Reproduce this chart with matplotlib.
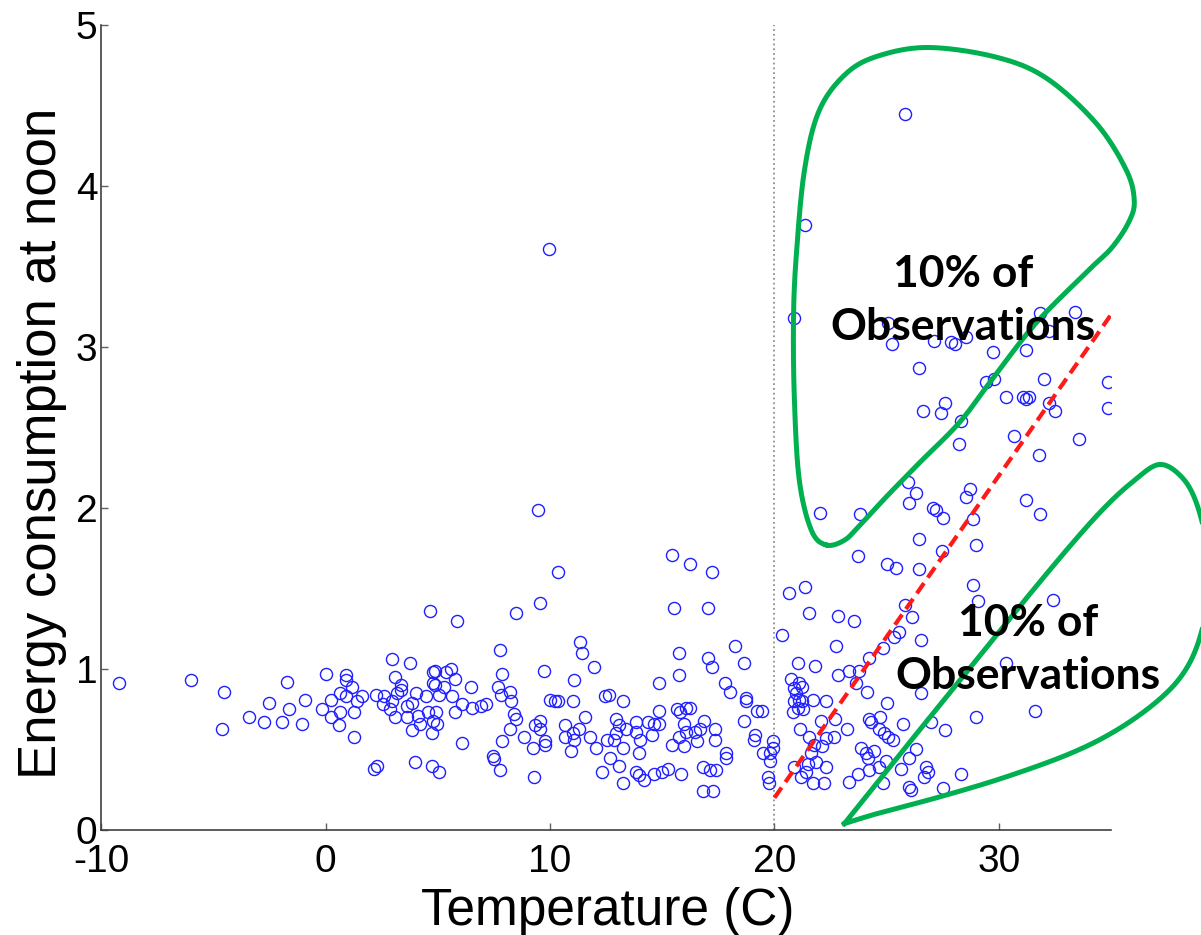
import numpy as np
import matplotlib
matplotlib.use("Agg")
import matplotlib.pyplot as plt

# temperature (C) / energy at noon, grouped by region
temp_cold = [-9.21, -6.01, -4.54, -4.63, -3.43, -2.54, -2.75, -1.74, -1.63, -1.96, -0.94, -1.04, -0.16, 0.0,
             0.25, 0.25, 0.59, 0.62, 0.65, 0.88, 0.88, 0.92, 1.17, 1.26, 1.26, 1.37, 1.63, 2.23, 2.15, 2.26,
             2.55, 2.58, 2.85, 2.97, 3.07, 2.97, 3.07, 3.18, 3.34, 3.37, 3.62, 3.64, 3.74, 3.86, 3.86, 3.96,
             4.04, 4.11, 4.19, 4.48, 4.56, 4.65, 4.78, 4.86, 4.78, 4.86, 4.90, 4.96, 4.75, 4.75, 5.05, 4.78,
             5.05, 5.26, 5.37, 5.57, 5.75, 5.64, 5.75, 5.83, 6.07, 6.06, 6.46, 6.53, 6.93, 7.16, 7.75, 7.84,
             7.68, 7.82, 7.45, 7.50, 7.75, 7.84, 8.20, 8.27, 8.39, 8.49, 8.22, 8.46, 8.82, 9.24, 9.26, 9.31,
             9.53, 9.53, 9.74, 9.53, 9.75, 9.98, 9.93, 9.44]
energy_cold = [0.91, 0.93, 0.86, 0.63, 0.70, 0.79, 0.67, 0.92, 0.75, 0.67, 0.81, 0.66, 0.75, 0.97,
               0.81, 0.70, 0.65, 0.85, 0.73, 0.96, 0.93, 0.83, 0.89, 0.73, 0.58, 0.80, 0.83, 0.84, 0.38, 0.40,
               0.78, 0.83, 0.75, 1.06, 0.95, 0.80, 0.70, 0.85, 0.90, 0.87, 0.77, 0.70, 1.04, 0.79, 0.62, 0.42,
               0.85, 0.71, 0.66, 0.83, 0.73, 1.36, 0.98, 0.99, 0.91, 0.90, 0.73, 0.66, 0.60, 0.40, 0.36, 0.68,
               0.84, 0.89, 0.98, 1.00, 0.94, 0.83, 0.73, 1.30, 0.78, 0.54, 0.89, 0.76, 0.77, 0.78, 1.12, 0.97,
               0.89, 0.84, 0.46, 0.44, 0.37, 0.55, 0.86, 0.80, 0.72, 0.69, 0.63, 1.35, 0.58, 0.51, 0.33, 0.65,
               0.68, 1.41, 0.99, 0.63, 0.55, 0.81, 3.61, 1.99]

temp_mild = [10.35, 9.75, 11.34, 11.43, 11.94, 11.05, 10.20, 10.35, 11.02, 10.65, 10.65, 11.02, 11.06, 10.94,
             11.28, 11.57, 11.76, 12.06, 12.43, 12.62, 13.24, 12.32, 12.65, 12.55, 12.95, 13.05, 12.92, 12.83,
             13.05, 13.24, 13.27, 13.39, 13.84, 13.84, 14.02, 13.94, 13.81, 13.94, 14.18, 14.36, 14.55, 14.62,
             14.85, 14.85, 14.85, 14.98, 15.25, 15.43, 16.24, 17.22, 15.52, 17.05, 15.74, 15.74, 17.05, 17.22,
             18.23, 18.63, 17.80, 18.04, 18.74, 18.74, 18.63, 19.21, 19.45, 19.15, 19.11, 19.51, 19.78, 19.78,
             19.70, 19.75, 19.93, 19.93, 17.82, 17.85, 16.81, 17.13, 17.40, 16.81, 17.25, 15.84, 15.44, 15.74,
             15.96, 15.66, 15.77, 16.07, 16.24, 15.95, 16.07, 16.44, 16.56, 16.66, 16.85, 17.33, 17.33, 14.65]
energy_mild = [1.60, 0.53, 1.17, 1.10, 1.01, 0.93, 0.80, 0.80, 0.80, 0.65, 0.58, 0.60, 0.56, 0.49,
               0.63, 0.70, 0.58, 0.51, 0.83, 0.84, 0.80, 0.36, 0.45, 0.56, 0.69, 0.65, 0.60, 0.56,
               0.40, 0.51, 0.29, 0.63, 0.67, 0.61, 0.56, 0.48, 0.36, 0.34, 0.31, 0.67, 0.59, 0.35,
               0.66, 0.74, 0.91, 0.36, 0.38, 1.71, 1.65, 1.60, 1.38, 1.38, 1.10, 0.96, 1.07, 1.01,
               1.14, 1.04, 0.91, 0.86, 0.82, 0.80, 0.68, 0.74, 0.74, 0.59, 0.56, 0.48, 0.48, 0.43,
               0.33, 0.29, 0.55, 0.51, 0.48, 0.45, 0.39, 0.37, 0.37, 0.24, 0.24, 0.35, 0.53, 0.58,
               0.52, 0.75, 0.73, 0.76, 0.76, 0.66, 0.61, 0.61, 0.55, 0.63, 0.68, 0.63, 0.56, 0.66]

temp_warm = [20.64, 21.34, 21.53, 20.34, 22.84, 23.53, 23.73, 25.02, 25.42, 26.43, 26.43, 27.47, 22.75, 21.04,
             21.83, 20.73, 21.11, 21.23, 20.89, 20.97, 21.11, 21.23, 20.89, 20.82, 21.04, 21.26, 21.71, 22.30,
             22.82, 23.31, 23.79, 24.23, 24.86, 25.35, 25.57, 25.82, 26.13, 26.53, 23.64, 24.12, 25.02, 26.53,
             21.14, 21.56, 22.08, 22.72, 23.22, 22.67, 22.30, 22.12, 21.78, 21.64, 20.89, 21.19, 21.41, 21.49,
             21.71, 22.23, 22.30, 21.86, 23.31, 23.71, 23.86, 24.08, 24.16, 24.45, 24.23, 24.65, 24.83, 24.98,
             24.23, 24.30, 24.71, 24.68, 24.90, 25.05, 25.27, 25.72, 26.01, 26.31, 25.64, 25.98, 26.09, 26.75,
             26.68, 26.83, 26.98, 27.62, 27.50, 28.98, 28.83, 29.06, 32.43, 30.32, 28.98, 31.61, 28.32]
energy_warm = [1.47, 1.51, 1.35, 1.21, 1.33, 1.30, 1.70, 1.65, 1.63, 1.81, 1.62, 1.73, 1.14, 1.04,
               1.02, 0.94, 0.91, 0.89, 0.88, 0.85, 0.81, 0.80, 0.80, 0.73, 0.76, 0.75, 0.81, 0.80,
               0.96, 0.99, 0.99, 1.07, 1.13, 1.20, 1.23, 1.40, 1.32, 1.18, 0.91, 0.86, 0.79, 0.85,
               0.63, 0.58, 0.68, 0.69, 0.63, 0.58, 0.57, 0.52, 0.53, 0.48, 0.39, 0.33, 0.36, 0.41,
               0.29, 0.29, 0.39, 0.42, 0.30, 0.35, 0.51, 0.48, 0.45, 0.49, 0.37, 0.39, 0.29, 0.43,
               0.69, 0.67, 0.70, 0.63, 0.60, 0.58, 0.56, 0.66, 0.45, 0.50, 0.38, 0.27, 0.25, 0.39,
               0.33, 0.36, 0.67, 0.62, 0.26, 1.77, 1.52, 1.42, 1.43, 1.04, 0.70, 0.74, 0.35]

temp_hot = [25.82, 21.37, 20.85, 25.05, 25.23, 27.13, 27.87, 28.06, 28.54, 31.83, 33.41, 32.25, 29.73, 31.21,
            26.43, 29.43, 29.80, 32.00, 34.89, 30.32, 31.06, 31.21, 31.36, 32.22, 32.52, 34.89, 26.61, 27.43,
            27.62, 28.32, 28.21, 30.69, 31.80, 33.59, 25.94, 26.31, 26.01, 27.05, 27.20, 27.50, 28.72, 28.54,
            28.83, 31.21, 31.83, 22.03, 23.82]
energy_hot = [4.45, 3.76, 3.18, 3.15, 3.02, 3.04, 3.03, 3.02, 3.06, 3.21, 3.22, 3.10, 2.97, 2.98,
              2.87, 2.78, 2.80, 2.80, 2.78, 2.69, 2.69, 2.68, 2.69, 2.65, 2.60, 2.62, 2.60, 2.59,
              2.65, 2.54, 2.40, 2.45, 2.33, 2.43, 2.16, 2.09, 2.03, 2.00, 1.99, 1.94, 2.12, 2.07,
              1.93, 2.05, 1.96, 1.97, 1.96]

# trend line and threshold
trend_x = [20, 35]
trend_y = [0.2, 3.2]
threshold = 20

# hand drawn loops (data coords)
upper_loop = [(22.32, 1.77), (21.65, 1.86), (21.11, 2.17), (20.89, 2.67), (20.85, 3.18), (20.98, 3.58),
              (21.34, 4.10), (22.00, 4.47), (23.21, 4.70), (24.68, 4.81), (26.90, 4.86), (29.89, 4.80),
              (32.12, 4.67), (34.34, 4.39), (35.68, 4.10), (36.04, 3.91), (35.81, 3.78), (35.06, 3.62),
              (34.03, 3.48), (31.67, 3.15), (29.71, 2.80), (28.24, 2.53), (26.46, 2.28), (24.99, 2.07),
              (23.79, 1.89), (23.12, 1.80)]
lower_loop = [(23.12, 0.04), (25.57, 0.466), (28.24, 0.925), (30.91, 1.385), (33.14, 1.758), (34.70, 2.0),
              (35.95, 2.16), (37.15, 2.27), (38.17, 2.19), (38.84, 2.02), (39.29, 1.74), (39.29, 1.43),
              (38.93, 1.18), (38.26, 0.98), (37.15, 0.81), (35.37, 0.63), (33.27, 0.48), (30.33, 0.33),
              (27.35, 0.205), (24.68, 0.106), (23.12, 0.04)]


def catmull(pts, closed, n=30):
    p = np.array(pts, dtype=float)
    if closed:
        p = np.vstack([p[-1], p, p[0], p[1]])
    else:
        p = np.vstack([p[0], p, p[-1]])
    out = []
    t = np.linspace(0, 1, n, endpoint=False)[:, None]
    for i in range(1, len(p) - 2):
        p0, p1, p2, p3 = p[i - 1], p[i], p[i + 1], p[i + 2]
        seg = 0.5 * ((2 * p1) + (-p0 + p2) * t + (2 * p0 - 5 * p1 + 4 * p2 - p3) * t ** 2
                     + (-p0 + 3 * p1 - 3 * p2 + p3) * t ** 3)
        out.append(seg)
    out.append(p[-2][None, :])
    return np.vstack(out)


plt.rcParams['font.family'] = ['Liberation Sans', 'DejaVu Sans']
plt.rcParams['axes.unicode_minus'] = False

fig = plt.figure(figsize=(12.01, 9.35), dpi=100)
ax = fig.add_axes([0.0845, 0.1123, 0.8405, 0.861])

blue = '#1f1fff'
for tx, ey in [(temp_cold, energy_cold), (temp_mild, energy_mild),
               (temp_warm, energy_warm), (temp_hot, energy_hot)]:
    ax.plot(tx, ey, 'o', mfc='none', mec=blue, ms=8.7, mew=1.0, ls='none')

ax.axvline(threshold, color='#909090', ls=':', lw=1.3, zorder=1)
ax.plot(trend_x, trend_y, color='#ff1a1a', lw=3, ls=(0, (3, 1.6)), zorder=4)

green = '#00b050'
up = catmull(upper_loop, closed=True)
ax.plot(up[:, 0], up[:, 1], color=green, lw=3.6, clip_on=False, zorder=5)
lo = catmull(lower_loop, closed=False)
ax.plot(lo[:, 0], lo[:, 1], color=green, lw=3.6, clip_on=False, zorder=5)

txt = dict(family=['Lato', 'DejaVu Sans'], fontweight='bold', fontsize=32, ha='center', va='center',
           linespacing=1.4, clip_on=False, zorder=6)
ax.text(28.42, 3.29, '10% of\nObservations', **txt)
ax.text(31.31, 1.12, '10% of\nObservations', **txt)

ax.set_xlim(-10, 35)
ax.set_ylim(0, 5)
ax.set_xticks([-10, 0, 10, 20, 30])
ax.set_yticks([0, 1, 2, 3, 4, 5])
ax.spines['top'].set_visible(False)
ax.spines['right'].set_visible(False)
for s in ['left', 'bottom']:
    ax.spines[s].set_color('#404040')
    ax.spines[s].set_linewidth(1.2)
ax.tick_params(direction='in', length=5, width=1, color='#606060', labelsize=28)
ax.tick_params(axis='x', pad=10)
ax.tick_params(axis='y', pad=3)

ax.set_xlabel('Temperature (C)', fontsize=37)
ax.set_ylabel('Energy consumption at noon', fontsize=38)
ax.xaxis.set_label_coords(0.501, -0.071)
ax.yaxis.set_label_coords(-0.034, 0.48)

fig.savefig('out.png', dpi=100)
